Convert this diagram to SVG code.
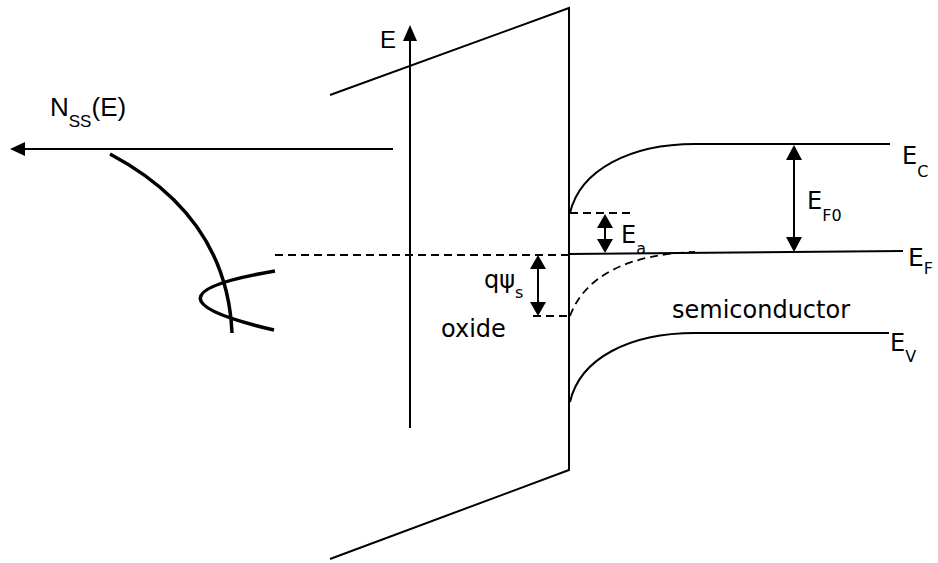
<svg xmlns="http://www.w3.org/2000/svg" width="938" height="563" viewBox="0 0 938 563">
<style>
.ln{fill:none;stroke:#000;stroke-width:2}
.thick{fill:none;stroke:#000;stroke-width:3.5}
.dash{fill:none;stroke:#000;stroke-width:1.8;stroke-dasharray:8,5}
.ah{fill:#000;stroke:none}
.lab{font-family:"DejaVu Sans",Verdana,sans-serif;fill:#000}
.ar{font-family:"Liberation Sans",Arial,sans-serif;fill:#000}
</style>
<rect width="938" height="563" fill="#fff"/>
<g id="oxide-band">
<polyline class="ln" points="330,95 569,8 569,470 330,559"/>
</g>
<g id="connectors">
<line class="ln" x1="410" y1="428" x2="410" y2="38"/>
<polygon class="ah" points="410,25 403,41 417,41"/>
<line class="ln" x1="393" y1="149" x2="22" y2="149"/>
<polygon class="ah" points="10,149 25,142 25,156"/>
<line class="dash" x1="275" y1="255" x2="569" y2="255"/>
<line class="dash" x1="570" y1="213" x2="634" y2="213"/>
<line class="dash" x1="533" y1="316" x2="570" y2="316"/>
<line class="ln" x1="605" y1="226" x2="605" y2="240"/>
<polygon class="ah" points="605,214 597,228 613,228"/>
<polygon class="ah" points="605,253 597,239 613,239"/>
<line class="ln" x1="538" y1="266" x2="538" y2="304"/>
<polygon class="ah" points="538,255 530,269 546,269"/>
<polygon class="ah" points="538,316 530,302 546,302"/>
<line class="ln" x1="794" y1="157" x2="794" y2="240"/>
<polygon class="ah" points="794,145 786,160 802,160"/>
<polygon class="ah" points="794,252 786,237 802,237"/>
</g>
<g id="bands">
<path class="ln" d="M570,213 C580,170 630,144 695,144 L890,144"/>
<path class="ln" d="M569,254 L903,251"/>
<path class="ln" d="M570,402 C580,358 630,333 695,333 L889,333"/>
<path class="dash" d="M570,316 C585,275 630,254 695,252"/>
</g>
<g id="nss-curve">
<path class="thick" d="M110,154 C172,187 228,240 232,333"/>
<path class="thick" d="M275,271 Q126,296 274,330"/>
</g>
<g id="labels">
<text class="ar" x="50" y="116" font-size="26">N<tspan font-size="17" dy="11">SS</tspan><tspan dy="-11">(E)</tspan></text>
<text class="ar" x="380" y="48" font-size="24">E</text>
<text class="lab" x="902" y="164" font-size="24">E<tspan font-size="16" dy="13">C</tspan></text>
<text class="lab" x="908" y="266" font-size="25">E<tspan font-size="16" dy="8">F</tspan></text>
<text class="lab" x="807" y="209" font-size="24">E<tspan font-size="16" dy="12">F0</tspan></text>
<text class="lab" x="890" y="351" font-size="24">E<tspan font-size="16" dy="11">V</tspan></text>
<text class="lab" x="621" y="243" font-size="24">E<tspan font-size="16" dy="11">a</tspan></text>
<text class="lab" x="484" y="288" font-size="24">qψ<tspan font-size="16" dy="10">s</tspan></text>
<text class="lab" x="441" y="337" font-size="24">oxide</text>
<text class="lab" x="672" y="318" font-size="24">semiconductor</text>
</g>
</svg>
